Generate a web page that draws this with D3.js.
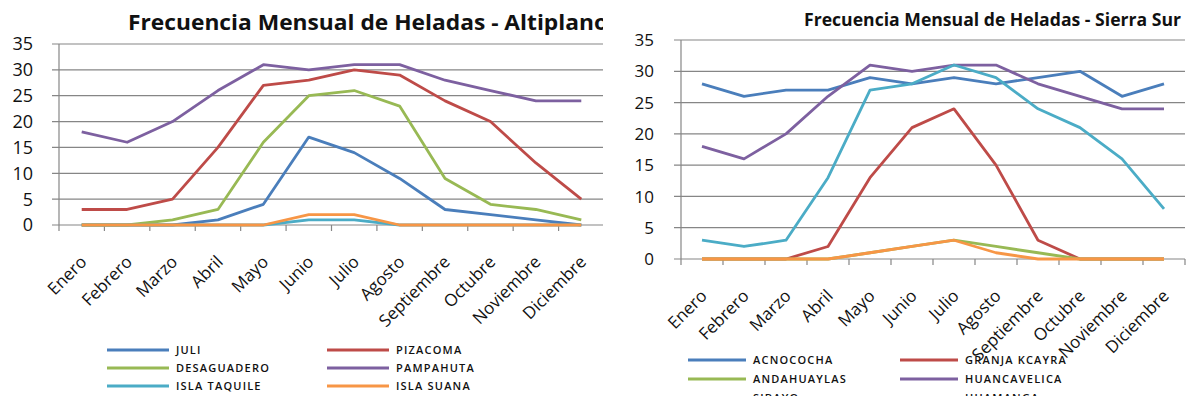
<!DOCTYPE html>
<html>
<head>
<meta charset="utf-8">
<script src="https://cdn.jsdelivr.net/npm/d3@7"></script>
<style>
  html, body { margin: 0; padding: 0; background: #fff; }
  svg { display: block; }
  text { font-family: "Open Sans", "Noto Sans", sans-serif; fill: #111; }
</style>
</head>
<body>
<svg id="chart" width="1188" height="396"></svg>
<script>
// Month categories shared by both panels
const months = ["Enero", "Febrero", "Marzo", "Abril", "Mayo", "Junio", "Julio",
  "Agosto", "Septiembre", "Octubre", "Noviembre", "Diciembre"];
const yTicks = [0, 5, 10, 15, 20, 25, 30, 35];

// Altiplano stations (frost days per month)
const altiplanoNames = ["JULI", "PIZACOMA", "DESAGUADERO", "PAMPAHUTA", "ISLA TAQUILE", "ISLA SUANA"];
const juli        = [0, 0, 0, 1, 4, 17, 14, 9, 3, 2, 1, 0];
const pizacoma    = [3, 3, 5, 15, 27, 28, 30, 29, 24, 20, 12, 5];
const desaguadero = [0, 0, 1, 3, 16, 25, 26, 23, 9, 4, 3, 1];
const pampahuta   = [18, 16, 20, 26, 31, 30, 31, 31, 28, 26, 24, 24];
const islaTaquile = [0, 0, 0, 0, 0, 1, 1, 0, 0, 0, 0, 0];
const islaSuana   = [0, 0, 0, 0, 0, 2, 2, 0, 0, 0, 0, 0];

// Sierra Sur stations (frost days per month)
const sierraNames = ["ACNOCOCHA", "GRANJA  KCAYRA", "ANDAHUAYLAS", "HUANCAVELICA", "SIBAYO", "HUAMANGA"];
const acnococha    = [28, 26, 27, 27, 29, 28, 29, 28, 29, 30, 26, 28];
const granjaKcayra = [0, 0, 0, 2, 13, 21, 24, 15, 3, 0, 0, 0];
const andahuaylas  = [0, 0, 0, 0, 1, 2, 3, 2, 1, 0, 0, 0];
const huancavelica = [18, 16, 20, 26, 31, 30, 31, 31, 28, 26, 24, 24];
const sibayo       = [3, 2, 3, 13, 27, 28, 31, 29, 24, 21, 16, 8];
const huamanga     = [0, 0, 0, 0, 1, 2, 3, 1, 0, 0, 0, 0];

const seriesColors = ["#4A7EBB", "#BE4B48", "#98B954", "#7D60A0", "#4BACC6", "#F79646"];

const svg = d3.select("#chart");

function drawPanel(cfg) {
  const g = svg.append("g");
  if (cfg.clipRight) {
    const id = "clip-" + cfg.key;
    svg.append("defs").append("clipPath").attr("id", id)
      .append("rect").attr("x", 0).attr("y", 0).attr("width", cfg.clipRight).attr("height", 396);
    g.attr("clip-path", `url(#${id})`);
  }

  const x = d3.scalePoint().domain(months).range([cfg.left, cfg.right]).padding(0.5);
  const y = d3.scaleLinear().domain([0, 35]).range([cfg.bottom, cfg.top]);
  const step = x.step();

  // horizontal gridlines with outward tick stubs
  g.append("g").selectAll("line").data(yTicks).join("line")
    .attr("x1", cfg.left - 7).attr("x2", cfg.right)
    .attr("y1", d => y(d)).attr("y2", d => y(d))
    .attr("stroke", "#868686").attr("stroke-width", 1.2);

  // value axis line
  g.append("line")
    .attr("x1", cfg.left).attr("x2", cfg.left)
    .attr("y1", y(35)).attr("y2", y(0))
    .attr("stroke", "#868686").attr("stroke-width", 1.2);

  // category tick marks at band boundaries
  const bounds = d3.range(months.length + 1).map(i => cfg.left + i * step);
  g.append("g").selectAll("line").data(bounds).join("line")
    .attr("x1", d => d).attr("x2", d => d)
    .attr("y1", y(0)).attr("y2", y(0) + 6)
    .attr("stroke", "#868686").attr("stroke-width", 1.2);

  // value labels
  g.append("g").selectAll("text").data(yTicks).join("text")
    .attr("x", cfg.yLabelX).attr("y", d => y(d))
    .attr("dy", "0.36em")
    .attr("text-anchor", "end")
    .style("font-size", cfg.yFont + "px")
    .text(d => d);

  // rotated month labels
  g.append("g").selectAll("text").data(months).join("text")
    .attr("text-anchor", "end")
    .attr("transform", d => `translate(${x(d) + cfg.xLabelDx},${y(0) + cfg.xLabelDy}) rotate(-45)`)
    .style("font-size", cfg.xFont + "px")
    .text(d => d);

  // series lines
  const line = d3.line()
    .x((d, i) => x(months[i]))
    .y(d => y(d));
  g.append("g").selectAll("path").data(cfg.series).join("path")
    .attr("d", d => line(d))
    .attr("fill", "none")
    .attr("stroke", (d, i) => seriesColors[i])
    .attr("stroke-width", 2.8)
    .attr("stroke-linejoin", "round")
    .attr("stroke-linecap", "butt");

  // title
  g.append("text")
    .attr("x", cfg.titleX).attr("y", cfg.titleY)
    .attr("textLength", cfg.titleLength)
    .attr("lengthAdjust", "spacingAndGlyphs")
    .style("font-size", cfg.titleFont + "px")
    .style("font-weight", "bold")
    .text(cfg.title);

  // legend, two columns filled row by row
  const leg = g.append("g").selectAll("g").data(cfg.names).join("g")
    .attr("transform", (d, i) =>
      `translate(${cfg.legendCols[i % 2]},${cfg.legendRows[Math.floor(i / 2)]})`);
  leg.append("line")
    .attr("x1", 0).attr("x2", cfg.legendLine)
    .attr("y1", 0).attr("y2", 0)
    .attr("stroke", (d, i) => seriesColors[i])
    .attr("stroke-width", 3);
  leg.append("text")
    .attr("x", cfg.legendLine + 7).attr("y", 0)
    .attr("dy", "0.36em")
    .style("font-size", "11px")
    .style("font-weight", "600")
    .style("letter-spacing", "1.2px")
    .text(d => d);
}

drawPanel({
  key: "altiplano",
  title: "Frecuencia Mensual de Heladas - Altiplano",
  titleX: 128, titleY: 30, titleLength: 480, titleFont: 21,
  names: altiplanoNames,
  series: [juli, pizacoma, desaguadero, pampahuta, islaTaquile, islaSuana],
  left: 59, right: 604, top: 44, bottom: 225,
  clipRight: 603,
  yLabelX: 33, yFont: 18,
  xFont: 17, xLabelDx: 6, xLabelDy: 38,
  legendCols: [107, 327], legendRows: [350, 368, 386], legendLine: 62
});

drawPanel({
  key: "sierra",
  title: "Frecuencia Mensual de Heladas - Sierra Sur",
  titleX: 804, titleY: 26, titleLength: 377, titleFont: 17,
  names: sierraNames,
  series: [acnococha, granjaKcayra, andahuaylas, huancavelica, sibayo, huamanga],
  left: 681, right: 1185, top: 40, bottom: 259,
  yLabelX: 654, yFont: 17,
  xFont: 17, xLabelDx: 6, xLabelDy: 38,
  legendCols: [688, 900], legendRows: [360, 379, 398], legendLine: 58
});
</script>
</body>
</html>
